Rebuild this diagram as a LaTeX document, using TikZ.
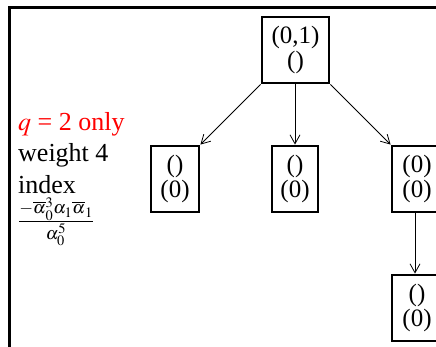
\documentclass[tikz,border=0pt]{standalone}
\usepackage{mathptmx}
\usepackage{fontspec}
\setmainfont{Liberation Serif}
\usetikzlibrary{arrows.meta}
\begin{document}
\begin{tikzpicture}[x=1pt,y=-1pt,
  tbox/.style={draw,line width=2.8pt,align=center,inner sep=0pt,
    font=\fontsize{25}{25}\selectfont},
  conn/.style={line width=0.8pt,-{Straight Barb[length=9pt,width=10pt,line width=0.8pt]}},
  lbl/.style={align=left,anchor=west,inner sep=0pt,font=\fontsize{26}{31}\selectfont}]
\useasboundingbox (0,0) rectangle (436,347);
\begin{scope}
\clip (0,0) rectangle (436,347);
\draw[line width=3pt] (9,347) -- (9,8) -- (436,8);
\node[tbox,minimum width=67pt,minimum height=66pt] (root) at (295.5,50) {(0,1)\\()};
\node[tbox,minimum width=48pt,minimum height=66pt] (a) at (175,179) {()\\(0)};
\node[tbox,minimum width=46pt,minimum height=66pt] (b) at (295,179) {()\\(0)};
\node[tbox,minimum width=50pt,minimum height=66pt,text width=46pt] (c) at (417,179) {(0)\\(0)};
\node[tbox,minimum width=50pt,minimum height=66pt,text width=46pt] (d) at (417,308) {()\\(0)};
\draw[conn] (root.south west) -- (a.north east);
\draw[conn] (root.south -| b.north) -- (b.north);
\draw[conn] (root.south east) -- (c.north west);
\draw[conn] (c.south -| 415,0) -- (d.north -| 415,0);
\end{scope}
\node[lbl] (t1) at (18,124) {\textcolor{red}{$q$ = 2 only}};
\node[lbl] (t2) at (18,155) {weight 4};
\node[lbl] (t3) at (18,185) {index};
\node[lbl,font=\fontsize{24}{24}\selectfont,anchor=center] (t4) at (56,222)
  {$\frac{-\overline{\alpha}{}_0^3\alpha_1\overline{\alpha}{}_1}{\alpha_0^5}$};
\end{tikzpicture}
\end{document}
